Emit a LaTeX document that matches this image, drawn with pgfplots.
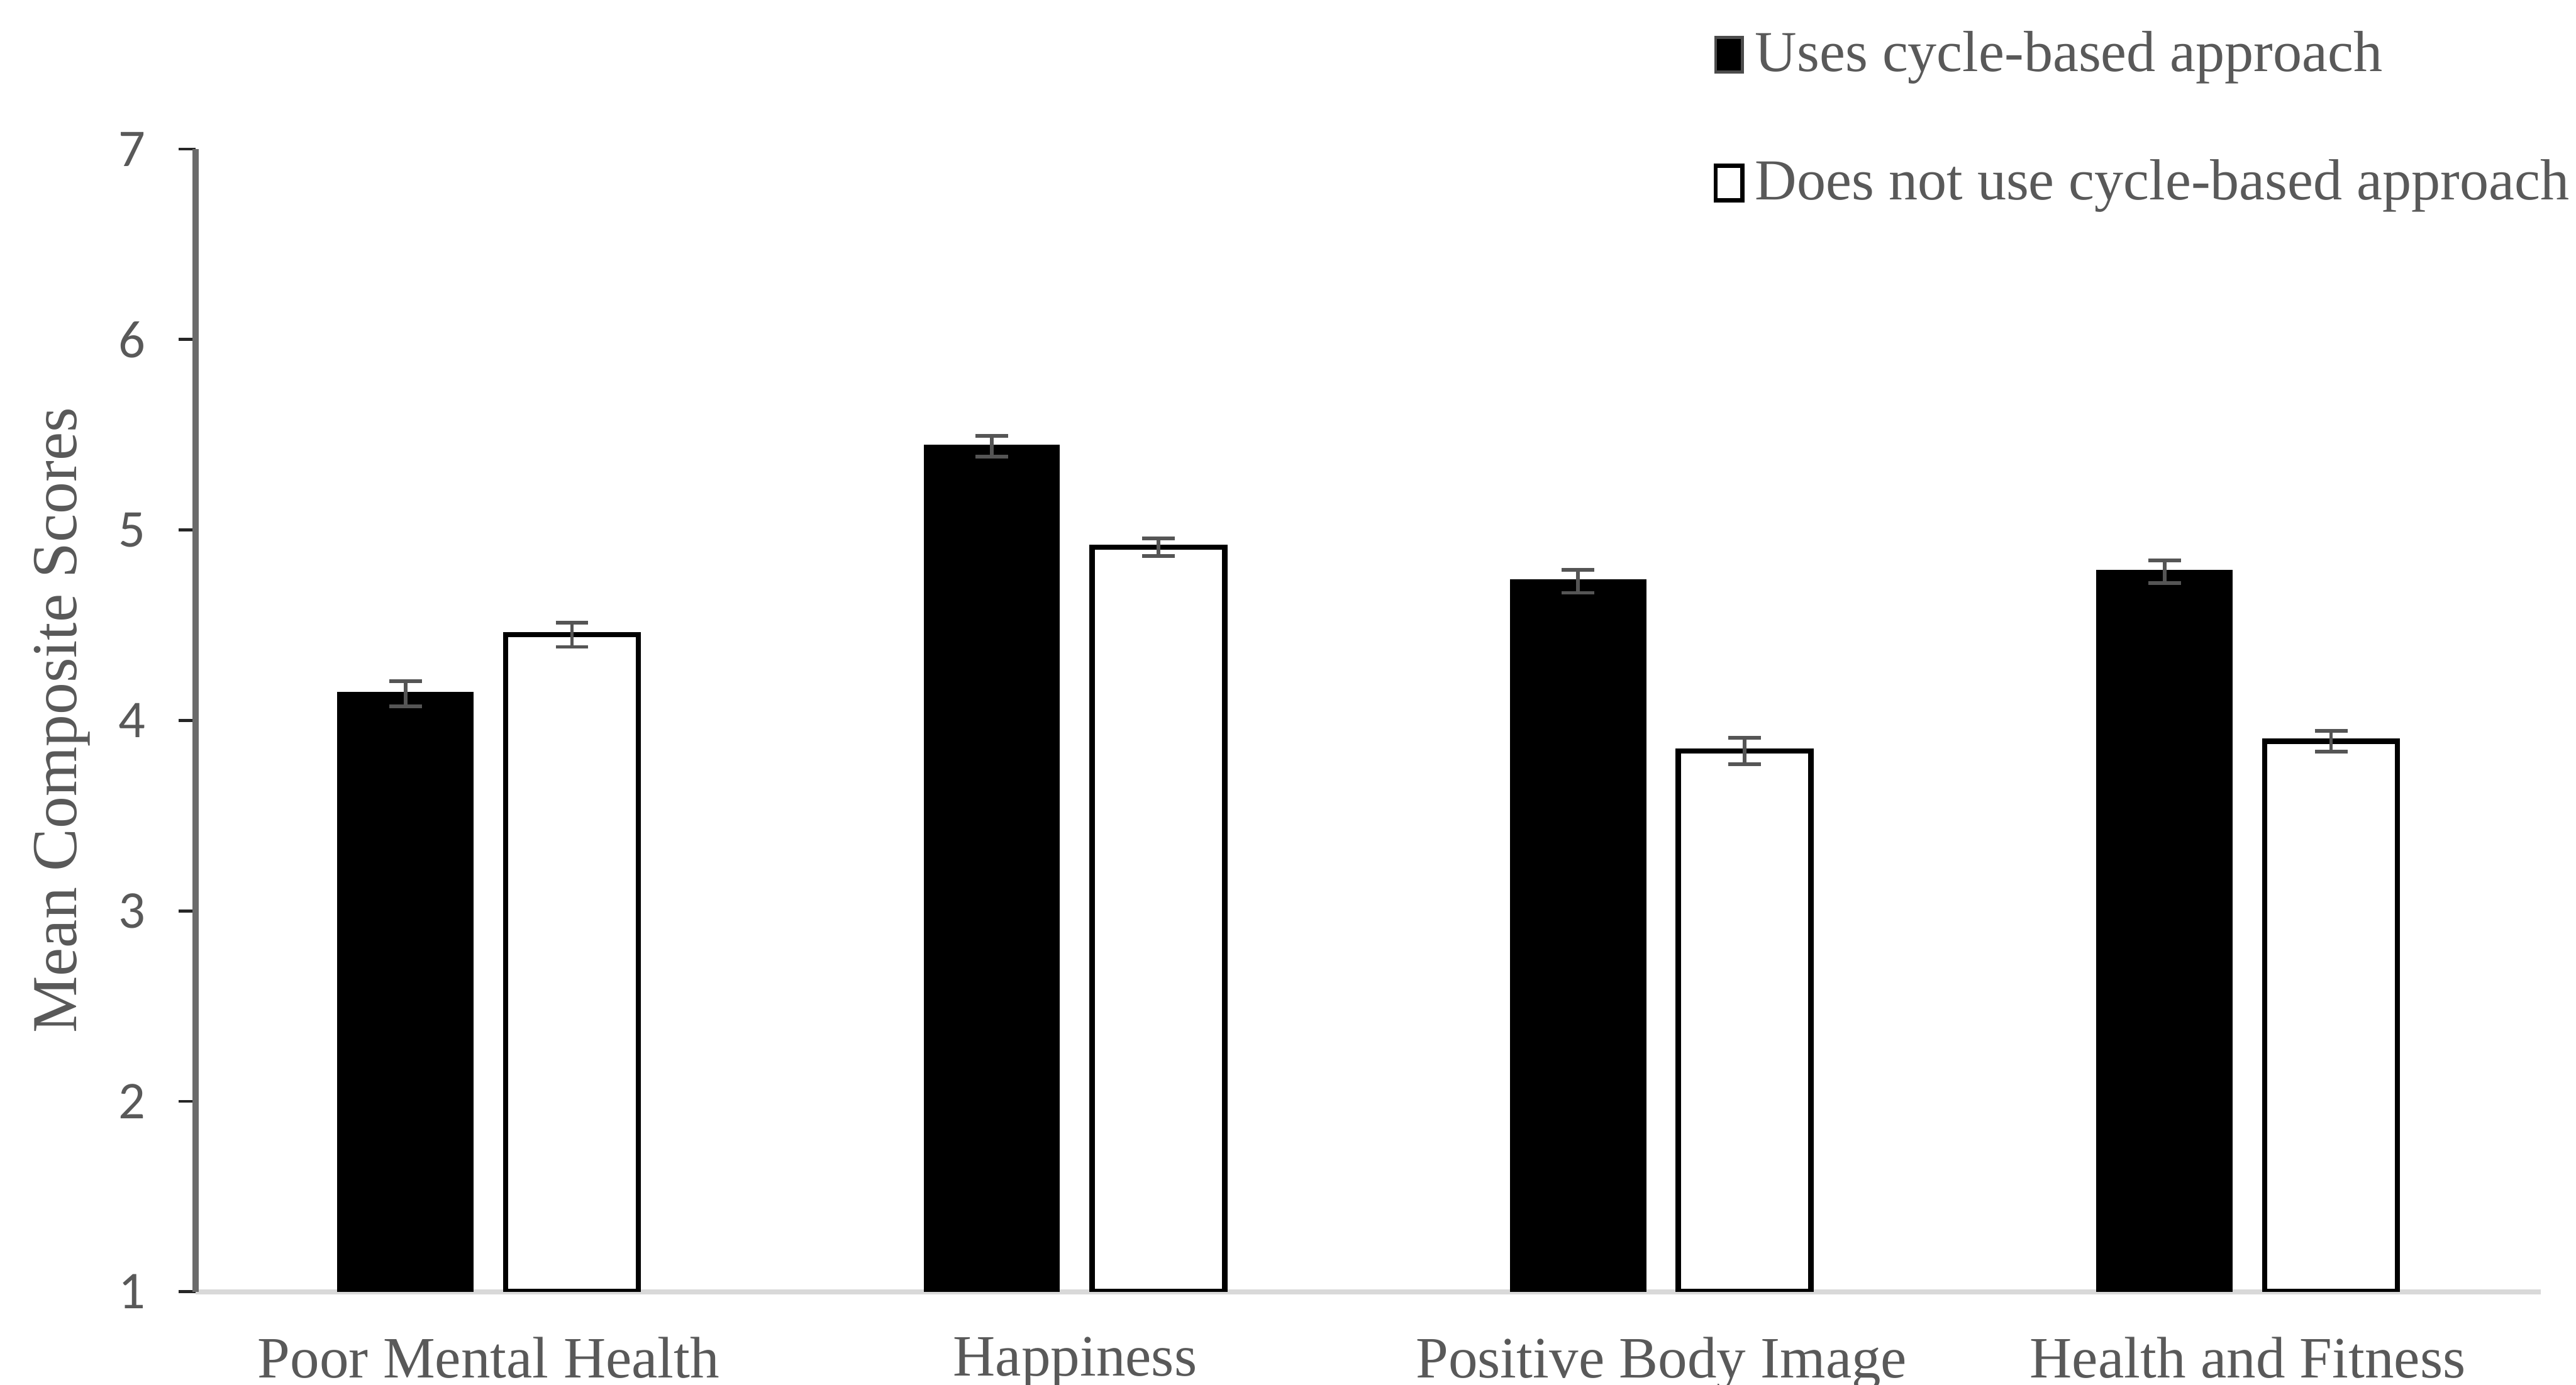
\documentclass[border=0pt]{standalone}
\usepackage{fontspec}
\setmainfont{Liberation Serif}
\newfontfamily\tickfont{Carlito}
\usepackage{pgfplots}
\pgfplotsset{compat=1.18}
\definecolor{txt}{HTML}{595959}
\definecolor{axgray}{HTML}{6B6B6B}
\definecolor{xaxgray}{HTML}{D9D9D9}
\definecolor{errgray}{HTML}{555555}
\begin{document}
\begin{tikzpicture}
\begin{axis}[
  at={(32.4pt,15.4pt)}, anchor=south west,
  width=388.6pt, height=189.3pt, scale only axis,
  ymin=1, ymax=7, xmin=-0.5, xmax=3.5,
  ytick={1,2,3,4,5,6,7},
  xtick={0,1,2,3},
  xticklabels={Poor Mental Health, Happiness, Positive Body Image, Health and Fitness},
  axis lines*=left,
  x axis line style={draw=xaxgray, line width=0.8pt},
  y axis line style={draw=axgray, line width=1pt},
  tick align=outside,
  major tick length=2.8pt,
  ytick style={draw=black!85, line width=0.5pt},
  xtick style={draw=none},
  /pgf/number format/assume math mode=true,
  yticklabel style={font=\tickfont\fontsize{8.8}{10}\selectfont, text=txt, xshift=-2pt},
  xticklabel style={font=\fontsize{9.7}{11}\selectfont, text=txt, yshift=-1.2pt},
  ylabel={Mean Composite Scores},
  ylabel style={at={(axis description cs:-0.0569,0.5)}, anchor=center, font=\fontsize{10.6}{12}\selectfont, text=txt},
  ybar, bar width=22pt,
  legend style={at={(axis description cs:0.6467,1.106)}, anchor=north west, draw=none, fill=none,
    font=\fontsize{9.6}{11}\selectfont, text=txt, inner sep=0pt, row sep=12.25pt,
    nodes={inner sep=0pt, text height=7pt, text depth=2pt},
    /tikz/every odd column/.append style={column sep=1.8pt}},
  legend cell align=left,
]
\addplot[fill=black, draw=black, line width=0.6pt, bar shift=-13.8pt,
  legend image code/.code={\draw[fill=black, draw=black!70, line width=0.5pt] (0pt,-2.6pt) rectangle (4.4pt,3.1pt);},
  error bars/.cd, y dir=both, y explicit,
  error bar style={draw=errgray, line width=0.6pt},
  error mark options={rotate=90, mark size=2.7pt, line width=0.6pt, draw=errgray}]
  coordinates {(0,4.14) +- (0,0.065) (1,5.44) +- (0,0.055) (2,4.73) +- (0,0.06) (3,4.78) +- (0,0.06)};
\addlegendentry{Uses cycle-based approach}
\addplot[fill=white, draw=black, line width=0.9pt, bar shift=13.8pt,
  legend image code/.code={\draw[fill=white, draw=black, line width=0.7pt] (0pt,-2.6pt) rectangle (4.4pt,3.1pt);},
  error bars/.cd, y dir=both, y explicit,
  error bar style={draw=errgray, line width=0.6pt},
  error mark options={rotate=90, mark size=2.7pt, line width=0.6pt, draw=errgray}]
  coordinates {(0,4.45) +- (0,0.064) (1,4.91) +- (0,0.046) (2,3.84) +- (0,0.069) (3,3.89) +- (0,0.055)};
\addlegendentry{Does not use cycle-based approach}
\end{axis}
\pgfresetboundingbox
\useasboundingbox (0,0) rectangle (426.8pt,229.4pt);
\end{tikzpicture}
\end{document}
